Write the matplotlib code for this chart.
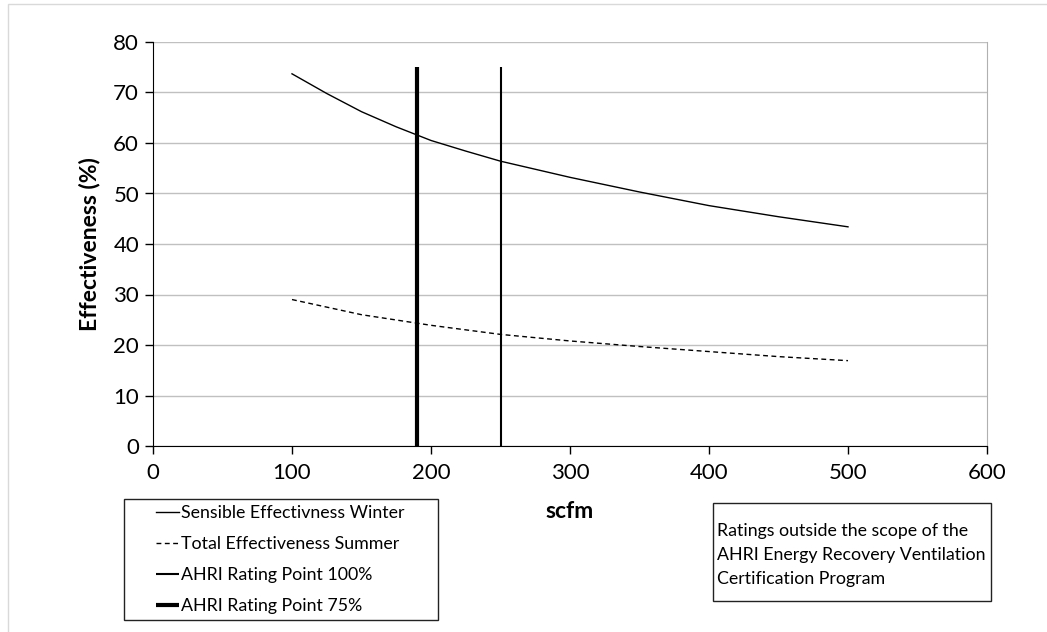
import matplotlib
matplotlib.use("Agg")
import matplotlib.pyplot as plt
from matplotlib.patches import Rectangle

plt.rcParams['font.family'] = ['Lato', 'DejaVu Sans']

# ---- data ----
scfm = [100, 125, 150, 175, 200, 225, 250, 300, 350, 400, 450, 500]
sensible_winter = [73.7, 69.8, 66.2, 63.2, 60.5, 58.4, 56.4, 53.2, 50.3, 47.6, 45.4, 43.4]
scfm_total = [100, 150, 200, 250, 300, 350, 400, 450, 500]
total_summer = [29.0, 26.0, 23.9, 22.1, 20.8, 19.7, 18.7, 17.7, 16.9]
rating_100_x = [250, 250]
rating_75_x = [190, 190]
rating_y = [0, 75]
x_ticks = [0, 100, 200, 300, 400, 500, 600]
y_ticks = [0, 10, 20, 30, 40, 50, 60, 70, 80]
labels = ["Sensible Effectivness Winter", "Total Effectiveness Summer",
          "AHRI Rating Point 100%", "AHRI Rating Point 75%"]
note = "Ratings outside the scope of the\nAHRI Energy Recovery Ventilation\nCertification Program"

W, H = 1047, 632
fig = plt.figure(figsize=(W / 100, H / 100), dpi=100)

# outer light frame (only top and left edges fall inside the image)
fig.patches.append(Rectangle((8 / W, -0.1), 1.2, (H - 4) / H + 0.1, transform=fig.transFigure,
                             fill=False, edgecolor='#d9d9d9', linewidth=1.0))

ax = fig.add_axes([153 / W, (H - 446) / H, (987 - 153) / W, (446 - 42) / H])

l1, = ax.plot(scfm, sensible_winter, color='black', linewidth=1.0)
l2, = ax.plot(scfm_total, total_summer, color='black', linewidth=1.0, dashes=(3.5, 2.5))
l3, = ax.plot(rating_100_x, rating_y, color='black', linewidth=1.5, solid_capstyle='butt')
l4, = ax.plot(rating_75_x, rating_y, color='black', linewidth=3.0, solid_capstyle='butt')

ax.set_xlim(0, 600)
ax.set_ylim(0, 80)
ax.set_xticks(x_ticks)
ax.set_yticks(y_ticks)
ax.tick_params(axis='both', labelsize=16, direction='out', length=6, width=1, color='black')
ax.tick_params(axis='y', pad=4)
ax.tick_params(axis='x', pad=6)
ax.yaxis.grid(True, color='#c0c0c0', linewidth=1.0)
ax.set_axisbelow(True)

ax.spines['top'].set_visible(False)
ax.spines['right'].set_color('#b0b0b0')
ax.spines['left'].set_color('black')
ax.spines['bottom'].set_color('black')

ax.set_xlabel('scfm', fontsize=16.5, fontweight='bold', labelpad=13)
ax.set_ylabel('Effectiveness (%)', fontsize=16.5, fontweight='bold', labelpad=9)

# legend frame + frameless legend
fig.patches.append(Rectangle((124 / W, (H - 620) / H), (438 - 124) / W, (620 - 499) / H,
                             transform=fig.transFigure, fill=False,
                             edgecolor='#222222', linewidth=1.0))
leg = fig.legend([l1, l2, l3, l4], labels,
                 loc='upper left',
                 bbox_to_anchor=(156 / W, (H - 505) / H),
                 fontsize=12.8, frameon=False, handlelength=1.3, handletextpad=0.1,
                 labelspacing=0.84, borderpad=0.0, borderaxespad=0)

# note box
fig.patches.append(Rectangle((713 / W, (H - 601) / H), (991 - 713) / W, (601 - 503) / H,
                             transform=fig.transFigure, fill=False,
                             edgecolor='#222222', linewidth=1.0))
fig.text(717 / W, (H - 523) / H, note, fontsize=12.8, ha='left', va='top',
         linespacing=1.6)

fig.savefig('out.png', dpi=100)
